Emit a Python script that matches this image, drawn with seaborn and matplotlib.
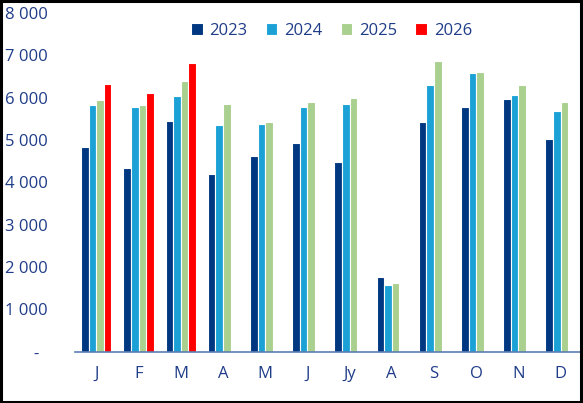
import numpy as np
import pandas as pd
import matplotlib
matplotlib.use("Agg")
import matplotlib.pyplot as plt
from matplotlib.patches import Rectangle
from matplotlib.ticker import FuncFormatter
import seaborn as sns

months = ["J", "F", "M", "A", "M ", "J ", "Jy", "A ", "S", "O", "N", "D"]
month_labels = ["J", "F", "M", "A", "M", "J", "Jy", "A", "S", "O", "N", "D"]
years = ["2023", "2024", "2025", "2026"]
v2023 = [4830, 4340, 5445, 4190, 4630, 4925, 4470, 1755, 5430, 5770, 5960, 5035]
v2024 = [5830, 5790, 6050, 5350, 5380, 5790, 5845, 1575, 6305, 6580, 6070, 5680]
v2025 = [5940, 5830, 6400, 5845, 5430, 5900, 6000, 1625, 6870, 6610, 6305, 5900]
v2026 = [6310, 6105, 6815, np.nan, np.nan, np.nan, np.nan, np.nan, np.nan, np.nan, np.nan, np.nan]

colors = ["#003781", "#1ba1d6", "#a9d08e", "#ff0000"]
navy = "#1f3c88"

rows = []
for y, vals in zip(years, [v2023, v2024, v2025, v2026]):
    for m, v in zip(months, vals):
        rows.append({"Month": m, "Year": y, "Value": v})
df = pd.DataFrame(rows)

sns.set_style("white")
plt.rcParams["font.family"] = ["Open Sans", "DejaVu Sans"]

fig = plt.figure(figsize=(5.83, 4.03), dpi=100)
ax = fig.add_axes([0.129, 0.127, 0.865, 0.841])

sns.barplot(data=df, x="Month", y="Value", hue="Year", order=months,
            hue_order=years, palette=colors, saturation=1, width=0.72,
            edgecolor="white", linewidth=0.8, ax=ax)

ax.set_ylim(0, 8000)
ax.set_yticks(range(0, 8001, 1000))
ax.yaxis.set_major_formatter(FuncFormatter(
    lambda v, p: "-  " if v == 0 else f"{int(v):,}".replace(",", " ")))
ax.set_xticks(range(len(months)))
ax.set_xticklabels(month_labels)
ax.set_xlabel("")
ax.set_ylabel("")
ax.tick_params(axis="both", length=0, colors=navy, labelsize=12)
ax.tick_params(axis="x", pad=10)
ax.tick_params(axis="y", pad=19.5)
for s in ["top", "right", "left"]:
    ax.spines[s].set_visible(False)
ax.spines["bottom"].set_color("#5b7db1")
ax.spines["bottom"].set_linewidth(1.2)
ax.set_xlim(-0.5, 11.45)

handles, labels = ax.get_legend_handles_labels()
leg = ax.legend(handles, labels, loc="center", bbox_to_anchor=(0.508, 0.947),
                ncol=4, frameon=False, handlelength=0.7, handleheight=0.7,
                columnspacing=1.1, handletextpad=0.4, fontsize=12)
for t in leg.get_texts():
    t.set_color(navy)

fig.patches.append(Rectangle((0.002, 0.003), 0.995, 0.994, transform=fig.transFigure,
                             fill=False, edgecolor="black", linewidth=2.2))

fig.savefig("out.png", dpi=100)
